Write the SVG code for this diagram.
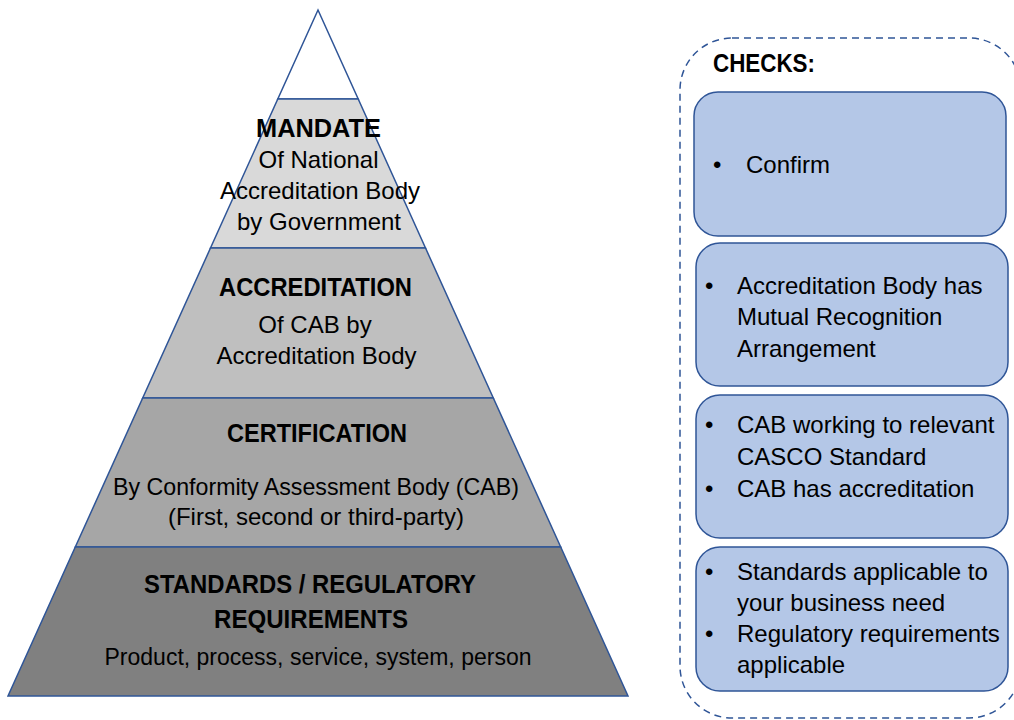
<svg xmlns="http://www.w3.org/2000/svg" width="1014" height="720" viewBox="0 0 1014 720">
<style>
.seg{stroke:#2F5597;stroke-width:1.5;stroke-linejoin:miter}
.t{font-family:"Liberation Sans",Arial,sans-serif;font-size:24px;fill:#000}
.h{font-family:"Liberation Sans",Arial,sans-serif;font-size:25px;font-weight:bold;fill:#000}
.c{text-anchor:middle}
.box{fill:#B4C7E7;stroke:#2F5597;stroke-width:1.5}
.panel{fill:none;stroke:#2F5597;stroke-width:1.5;stroke-dasharray:7 5}
</style>
<rect width="1014" height="720" fill="#ffffff"/>
<g id="apex">
<polygon class="seg" fill="#ffffff" points="318,10 358.2,99 277.8,99"/>
</g>
<g id="mandate">
<polygon class="seg" fill="#D9D9D9" points="277.8,99 358.2,99 425.5,248 210.5,248"/>
<text class="h c" x="318.5" y="137" textLength="125" lengthAdjust="spacingAndGlyphs">MANDATE</text>
<text class="t c" x="318.5" y="168">Of National</text>
<text class="t c" x="320" y="199">Accreditation Body</text>
<text class="t c" x="319" y="230">by Government</text>
</g>
<g id="accreditation">
<polygon class="seg" fill="#BFBFBF" points="210.5,248 425.5,248 493.3,398 142.7,398"/>
<text class="h c" x="315.5" y="296" textLength="193" lengthAdjust="spacingAndGlyphs">ACCREDITATION</text>
<text class="t c" x="315" y="333">Of CAB by</text>
<text class="t c" x="316.5" y="364">Accreditation Body</text>
</g>
<g id="certification">
<polygon class="seg" fill="#A6A6A6" points="142.7,398 493.3,398 560.7,547 75.3,547"/>
<text class="h c" x="317" y="442" textLength="180" lengthAdjust="spacingAndGlyphs">CERTIFICATION</text>
<text class="t c" x="316" y="495" style="font-size:23.2px">By Conformity Assessment Body (CAB)</text>
<text class="t c" x="316" y="525">(First, second or third-party)</text>
</g>
<g id="standards">
<polygon class="seg" fill="#808080" points="75.3,547 560.7,547 628,696 8,696"/>
<text class="h c" x="310" y="593" textLength="332" lengthAdjust="spacingAndGlyphs">STANDARDS / REGULATORY</text>
<text class="h c" x="311" y="628" textLength="194" lengthAdjust="spacingAndGlyphs">REQUIREMENTS</text>
<text class="t c" x="318" y="665" style="font-size:23px">Product, process, service, system, person</text>
</g>
<g id="checks-panel">
<rect class="panel" x="680" y="38" width="341" height="680" rx="52" ry="52"/>
<text class="h" x="713" y="72" textLength="102" lengthAdjust="spacingAndGlyphs">CHECKS:</text>
</g>
<g id="check-confirm">
<rect class="box" x="694" y="92" width="312" height="144" rx="24" ry="24"/>
<text class="t" x="713" y="173">•</text>
<text class="t" x="746" y="173">Confirm</text>
</g>
<g id="check-mra">
<rect class="box" x="696" y="243" width="312" height="143" rx="24" ry="24"/>
<text class="t" x="705" y="294">•</text>
<text class="t" x="737" y="294">Accreditation Body has</text>
<text class="t" x="737" y="325">Mutual Recognition</text>
<text class="t" x="737" y="357">Arrangement</text>
</g>
<g id="check-cab">
<rect class="box" x="696" y="395" width="312" height="143" rx="24" ry="24"/>
<text class="t" x="705" y="433">•</text>
<text class="t" x="737" y="433">CAB working to relevant</text>
<text class="t" x="737" y="465">CASCO Standard</text>
<text class="t" x="705" y="497">•</text>
<text class="t" x="737" y="497">CAB has accreditation</text>
</g>
<g id="check-standards">
<rect class="box" x="696" y="547" width="312" height="144" rx="24" ry="24"/>
<text class="t" x="705" y="580">•</text>
<text class="t" x="737" y="580">Standards applicable to</text>
<text class="t" x="737" y="611">your business need</text>
<text class="t" x="705" y="642">•</text>
<text class="t" x="737" y="642">Regulatory requirements</text>
<text class="t" x="737" y="673">applicable</text>
</g>
<g id="connectors"></g>
</svg>
